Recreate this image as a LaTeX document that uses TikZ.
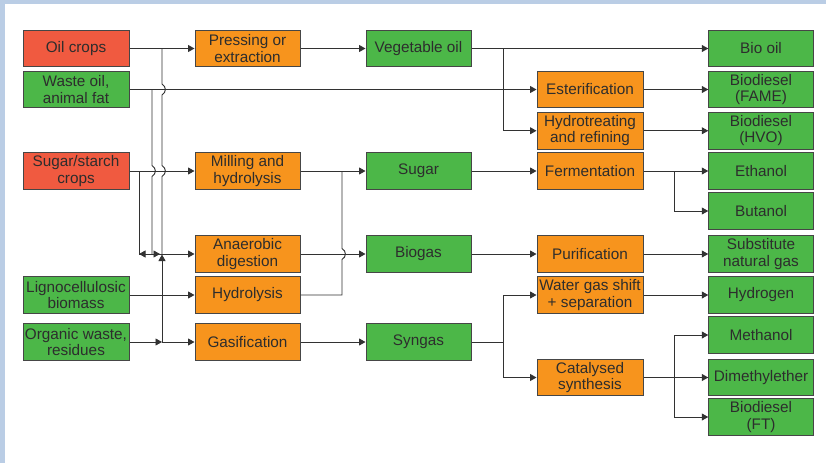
\documentclass[tikz,border=0pt]{standalone}
\usepackage{fontspec}
\setmainfont{Liberation Sans}
\usetikzlibrary{arrows.meta}
\definecolor{cred}{RGB}{240,90,64}
\definecolor{corange}{RGB}{247,148,29}
\definecolor{cgreen}{RGB}{76,183,72}
\definecolor{cband}{RGB}{186,205,229}
\definecolor{cline}{RGB}{50,50,50}
\definecolor{cborder}{RGB}{70,70,70}
\definecolor{ctext}{RGB}{45,45,45}
\begin{document}
\begin{tikzpicture}[x=1pt,y=-1pt,
  box/.style={draw=cborder,line width=1pt,minimum height=36.5pt,inner sep=0pt,
    align=center,text=ctext,font=\fontsize{15.3}{16.3}\selectfont},
  rbox/.style={box,fill=cred,minimum width=106pt},
  gbox/.style={box,fill=cgreen,minimum width=106pt},
  pbox/.style={box,fill=corange,minimum width=105pt},
  mbox/.style={box,fill=cgreen,minimum width=105pt},
  qbox/.style={box,fill=corange,minimum width=106pt},
  ebox/.style={box,fill=cgreen,minimum width=104.5pt},
  ln/.style={draw=cline,line width=0.95pt},
  arr/.style={ln,-{Triangle[length=6.5pt,width=7pt]}}]
\useasboundingbox (0,0) rectangle (826,463);
\fill[cband] (0,0) rectangle (826,463);
\fill[white] (5,4) rectangle (826,463);

% column 1
\node[rbox] (oil) at (76,48.5) {Oil crops};
\node[gbox] (waste) at (76,89.5) {Waste oil,\\animal fat};
\node[rbox] (sugarc) at (76,171) {Sugar/starch\\crops};
\node[gbox] (ligno) at (76,295) {Lignocellulosic\\biomass};
\node[gbox] (organic) at (76,342) {Organic waste,\\residues};
% column 2
\node[pbox] (press) at (247.5,48.5) {Pressing or\\extraction};
\node[pbox] (mill) at (247.5,171) {Milling and\\hydrolysis};
\node[pbox] (anaer) at (247.5,254) {Anaerobic\\digestion};
\node[pbox] (hydrol) at (247.5,295) {Hydrolysis};
\node[pbox] (gasif) at (247.5,342) {Gasification};
% column 3
\node[mbox] (vegoil) at (418.5,48.5) {Vegetable oil};
\node[mbox] (sugar) at (418.5,171) {Sugar};
\node[mbox] (biogas) at (418.5,254) {Biogas};
\node[mbox] (syngas) at (418.5,342) {Syngas};
% column 4
\node[qbox] (ester) at (590,89.5) {Esterification};
\node[qbox] (hydrot) at (590,130.75) {Hydrotreating\\and refining};
\node[qbox] (ferm) at (590,171) {Fermentation};
\node[qbox] (purif) at (590,254) {Purification};
\node[qbox] (wgs) at (590,295) {Water gas shift\\+ separation};
\node[qbox] (catal) at (590,377.5) {Catalysed\\synthesis};
% column 5
\node[ebox] (biooil) at (761,48.5) {Bio oil};
\node[ebox] (fame) at (761,89.5) {Biodiesel\\(FAME)};
\node[ebox] (hvo) at (761,130.75) {Biodiesel\\(HVO)};
\node[ebox] (ethanol) at (761,171) {Ethanol};
\node[ebox] (butanol) at (761,211) {Butanol};
\node[ebox] (sng) at (761,254) {Substitute\\natural gas};
\node[ebox] (hydrogen) at (761,295) {Hydrogen};
\node[ebox] (methanol) at (761,335) {Methanol};
\node[ebox] (dme) at (761,377.5) {Dimethylether};
\node[ebox] (ft) at (761,417) {Biodiesel\\(FT)};

% junction coordinates
\coordinate (jA) at (162,48.5);
\coordinate (jB) at (152,89.5);
\coordinate (jC) at (139,171);
\coordinate (jD) at (139,254);
\coordinate (jE) at (162,342);
\coordinate (jF) at (342,171);
\coordinate (jG) at (342,295);
\coordinate (jH) at (503,48.5);
\coordinate (jI) at (674,171);
\coordinate (jJ) at (503,342);
\coordinate (jK) at (674,377.5);

% left side
\draw[arr] (oil.east) -- (press.west);
\draw[arr] (waste.east) -- (ester.west);
\draw[arr] (sugarc.east) -- (mill.west);
\draw[arr] (ligno.east) -- (hydrol.west);
\draw[arr] (organic.east) -- (jE);
\draw[arr] (jE) -- (gasif.west);
\draw[arr] (jE) -- (162,254.5);
% verticals with hops
\draw[ln] (jA) -- (162,84) .. controls (166.5,87) and (166.5,92) .. (162,95)
  -- (162,165.5) .. controls (166.5,168.5) and (166.5,173.5) .. (162,176.5) -- (162,254);
\draw[ln] (jB) -- (152,165.5) .. controls (156.5,168.5) and (156.5,173.5) .. (152,176.5) -- (152,254);
\draw[ln] (jC) -- (jD);
\draw[arr] (jD) -- (anaer.west);
\draw[arr] (146,254) -- (jD);
\draw[arr] (152,254) -- (160,254);

% middle
\draw[arr] (press.east) -- (vegoil.west);
\draw[arr] (mill.east) -- (sugar.west);
\draw[arr] (anaer.east) -- (biogas.west);
\draw[arr] (gasif.east) -- (syngas.west);
\draw[ln] (hydrol.east) -- (jG) -- (342,259.5) .. controls (346.5,257) and (346.5,251) .. (342,248.5) -- (jF);

% right side
\draw[arr] (vegoil.east) -- (biooil.west);
\draw[arr] (jH) |- (hydrot.west);
\draw[arr] (ester.east) -- (fame.west);
\draw[arr] (hydrot.east) -- (hvo.west);
\draw[arr] (sugar.east) -- (ferm.west);
\draw[arr] (ferm.east) -- (ethanol.west);
\draw[arr] (jI) |- (butanol.west);
\draw[arr] (biogas.east) -- (purif.west);
\draw[arr] (purif.east) -- (sng.west);
\draw[ln] (syngas.east) -- (jJ);
\draw[arr] (jJ) |- (wgs.west);
\draw[arr] (jJ) |- (catal.west);
\draw[arr] (wgs.east) -- (hydrogen.west);
\draw[arr] (catal.east) -- (dme.west);
\draw[arr] (jK) |- (methanol.west);
\draw[arr] (jK) |- (ft.west);
\end{tikzpicture}
\end{document}
